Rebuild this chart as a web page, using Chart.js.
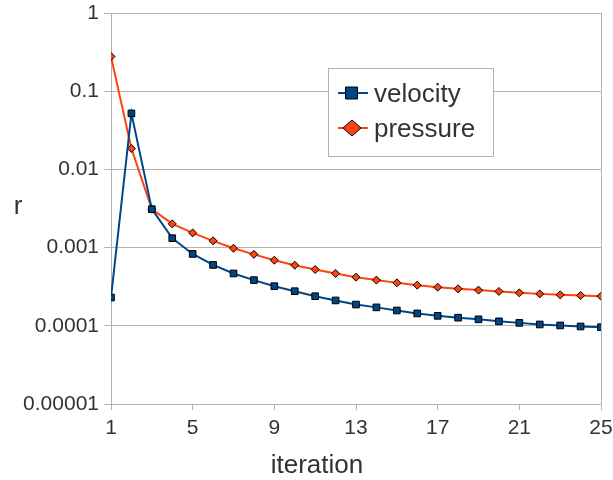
<!DOCTYPE html>
<html>
<head>
<meta charset="utf-8">
<script src="https://cdn.jsdelivr.net/npm/chart.js@4/dist/chart.umd.min.js"></script>
<style>
  body { margin: 0; background: #fff; }
</style>
</head>
<body>
<canvas id="residualChart" width="613" height="480"></canvas>
<script>
const iterations = [1, 2, 3, 4, 5, 6, 7, 8, 9, 10, 11, 12, 13, 14, 15, 16, 17, 18, 19, 20, 21, 22, 23, 24, 25];
const velocity = [0.00023, 0.052, 0.0031, 0.00132, 0.00083, 0.00060, 0.000467, 0.000384, 0.000321, 0.000277,
                  0.000239, 0.000211, 0.000187, 0.000172, 0.000157, 0.000144, 0.000134, 0.000127, 0.000121,
                  0.000114, 0.000109, 0.000104, 0.000101, 0.000098, 0.000096];
const pressure = [0.278, 0.0185, 0.0031, 0.00201, 0.00154, 0.00122, 0.00098, 0.00082, 0.00069, 0.000596,
                  0.000525, 0.000467, 0.000419, 0.000384, 0.000354, 0.000331, 0.000312, 0.000297, 0.000286,
                  0.000275, 0.000264, 0.000256, 0.000249, 0.000244, 0.000239];
const yTickValues = [0.00001, 0.0001, 0.001, 0.01, 0.1, 1];
const yTickLabels = ['0.00001', '0.0001', '0.001', '0.01', '0.1', '1'];
const seriesNames = ['velocity', 'pressure'];
const xTitle = 'iteration';
const yTitle = 'r';

const blue = '#004586';
const orange = '#ff420e';
const gridGray = '#b3b3b3';
const textGray = '#333333';
const font = '"Liberation Sans", Arial, sans-serif';

const toPoints = (vals) => vals.map((v, i) => ({ x: iterations[i], y: v }));

// frame line on the right, axis titles and the boxed legend inside the plot
const extras = {
    id: 'extras',
    beforeDatasetsDraw(chart) {
        const ctx = chart.ctx;
        const a = chart.chartArea;
        ctx.save();
        ctx.strokeStyle = gridGray;
        ctx.lineWidth = 1;
        ctx.beginPath();
        ctx.moveTo(Math.round(a.right) + 0.5, a.top);
        ctx.lineTo(Math.round(a.right) + 0.5, a.bottom);
        ctx.stroke();
        ctx.restore();
    },
    afterDraw(chart) {
        const ctx = chart.ctx;
        ctx.save();
        ctx.fillStyle = textGray;
        ctx.font = '26px ' + font;
        ctx.textAlign = 'center';
        ctx.textBaseline = 'alphabetic';
        ctx.fillText(xTitle, 317, 473);
        ctx.fillText(yTitle, 18, 214);

        // legend box
        ctx.fillStyle = '#ffffff';
        ctx.fillRect(328.5, 68.5, 165, 88);
        ctx.strokeStyle = gridGray;
        ctx.lineWidth = 1;
        ctx.strokeRect(328.5, 68.5, 165, 88);

        const rows = [
            { name: seriesNames[0], color: blue, y: 93, shape: 'square' },
            { name: seriesNames[1], color: orange, y: 128, shape: 'diamond' }
        ];
        rows.forEach(r => {
            ctx.strokeStyle = r.color;
            ctx.lineWidth = 2;
            ctx.beginPath();
            ctx.moveTo(338, r.y);
            ctx.lineTo(368, r.y);
            ctx.stroke();
            ctx.fillStyle = r.color;
            ctx.strokeStyle = '#000';
            ctx.lineWidth = 1;
            ctx.beginPath();
            if (r.shape === 'square') {
                ctx.rect(345.5, r.y - 6, 12, 12);
            } else {
                ctx.moveTo(352, r.y - 8);
                ctx.lineTo(361, r.y);
                ctx.lineTo(352, r.y + 8);
                ctx.lineTo(343, r.y);
                ctx.closePath();
            }
            ctx.fill();
            ctx.stroke();
            ctx.fillStyle = textGray;
            ctx.font = '26px ' + font;
            ctx.textAlign = 'left';
            ctx.textBaseline = 'alphabetic';
            ctx.fillText(r.name, 374, r.y + 9);
        });
        ctx.restore();
    }
};

const ctx = document.getElementById('residualChart').getContext('2d');
new Chart(ctx, {
    type: 'line',
    data: {
        datasets: [{
            label: seriesNames[0],
            data: toPoints(velocity),
            borderColor: blue,
            backgroundColor: blue,
            borderWidth: 2,
            pointStyle: 'rect',
            pointRadius: 4.7,
            pointBorderColor: '#000',
            pointBorderWidth: 1,
            tension: 0,
            fill: false
        }, {
            label: seriesNames[1],
            data: toPoints(pressure),
            borderColor: orange,
            backgroundColor: orange,
            borderWidth: 2,
            pointStyle: 'rectRot',
            pointRadius: 4,
            pointBorderColor: '#000',
            pointBorderWidth: 1,
            tension: 0,
            fill: false
        }]
    },
    options: {
        responsive: false,
        animation: false,
        layout: {
            padding: { top: 13, right: 12, left: 0, bottom: 0 }
        },
        plugins: {
            legend: { display: false },
            tooltip: { enabled: false }
        },
        scales: {
            x: {
                type: 'linear',
                min: 1,
                max: 25,
                afterFit: (scale) => {
                    scale.height = 76;
                    scale.paddingLeft = 0;
                    scale.paddingRight = 0;
                },
                ticks: {
                    stepSize: 4,
                    color: textGray,
                    font: { family: font, size: 21 },
                    padding: 6,
                    maxRotation: 0
                },
                grid: {
                    drawOnChartArea: false,
                    color: gridGray,
                    tickLength: 6
                },
                border: { color: gridGray }
            },
            y: {
                type: 'logarithmic',
                min: 0.00001,
                max: 1,
                afterFit: (scale) => {
                    scale.width = 111;
                    scale.paddingTop = 0;
                    scale.paddingBottom = 0;
                },
                afterBuildTicks: (scale) => {
                    scale.ticks = yTickValues.map(v => ({ value: v }));
                },
                ticks: {
                    color: textGray,
                    font: { family: font, size: 21 },
                    padding: 5,
                    callback: (value, index) => yTickLabels[index]
                },
                grid: {
                    color: gridGray,
                    tickLength: 7
                },
                border: { color: gridGray }
            }
        }
    },
    plugins: [extras]
});
</script>
</body>
</html>
